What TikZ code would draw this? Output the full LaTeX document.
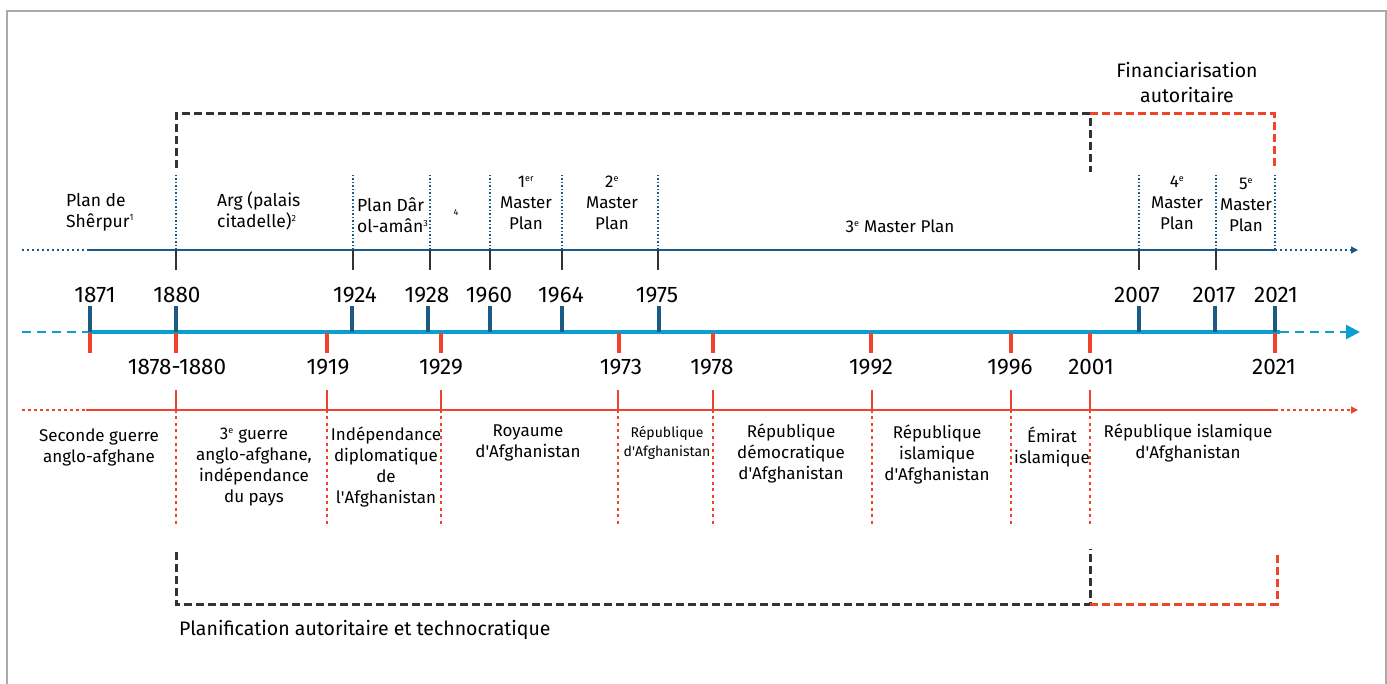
\documentclass[tikz,border=0pt]{standalone}
\usepackage{fontspec}
\setmainfont{Fira Sans}
\usetikzlibrary{arrows.meta}
\definecolor{dblue}{HTML}{1B5A84}
\definecolor{lblue}{HTML}{0A9ED2}
\definecolor{tred}{HTML}{F0442A}
\definecolor{dgray}{HTML}{333333}
\definecolor{framec}{HTML}{AAAAAA}
\newcommand{\ap}{\textquotesingle}
\newcommand{\supx}[1]{\textsuperscript{\fontsize{9}{9}\selectfont #1}}
\tikzset{
  yr/.style={inner sep=0pt, font=\fontsize{22.5}{26}\selectfont},
  lbl/.style={inner sep=0pt, align=center, font=\fontsize{17}{21}\selectfont},
  lbll/.style={inner sep=0pt, align=left, anchor=west, font=\fontsize{17.5}{21}\selectfont},
  smalllbl/.style={inner sep=0pt, align=center, font=\fontsize{14}{19}\selectfont},
  bluetick/.style={dblue, line width=4pt},
  redtick/.style={tred, line width=3.5pt},
  graytick/.style={dgray, line width=2pt},
  redsmalltick/.style={tred, line width=2.5pt},
  bluedot/.style={dblue, line width=1.2pt, dash pattern=on 1.5pt off 2pt},
  reddot/.style={tred, line width=1.2pt, dash pattern=on 3pt off 3.5pt},
  bracketk/.style={dgray, line width=3pt, dash pattern=on 8pt off 4pt},
  bracketr/.style={tred, line width=3pt, dash pattern=on 8pt off 4pt},
}
\begin{document}
\begin{tikzpicture}[x=1pt,y=-1pt]
\useasboundingbox (0,0) rectangle (1387,684);
\draw[framec, line width=1.2pt] (7,690) -- (7,11) -- (1386,11) -- (1386,690);

% ---------- top bracket ----------
\coordinate (tb1) at (176,168);
\coordinate (tb2) at (176,114);
\coordinate (tb3) at (1090,114);
\coordinate (tb4) at (1090,172);
\coordinate (tb5) at (1274,114);
\coordinate (tb6) at (1274,168);
\draw[bracketk] (tb1) -- (tb2) -- (tb3) -- (tb4);
\draw[bracketr] (tb3) -- (tb5) -- (tb6);
\node[lbl, font=\fontsize{19.5}{25}\selectfont] (fin) at (1187,83) {Financiarisation\\autoritaire};

% ---------- top plan line ----------
\coordinate (p0) at (22,250);
\coordinate (p1) at (88,250);
\coordinate (p2) at (1275,250);
\coordinate (p3) at (1358,250);
\draw[dblue, line width=1.3pt, dash pattern=on 2pt off 3pt] (p0) -- (p1);
\draw[dblue, line width=1.3pt] (p1) -- (p2);
\draw[dblue, line width=1.3pt, dash pattern=on 2pt off 3pt, -{Triangle[length=7pt,width=7pt]}] (p2) -- (p3);

\foreach \x in {176,353,430,490,562,658,1139,1216,1275}{
  \draw[bluedot] (\x,175) -- (\x,250);
}
\foreach \x in {176,353,430,490,562,658,1139,1216}{
  \draw[graytick] (\x,250) -- (\x,270);
}

\node[lbll] (sherpur) at (66,212) {Plan de\\Shêrpur\supx{1}};
\node[lbll] (arg) at (217,211) {Arg (palais\\citadelle)\supx{2}};
\node[lbll] (daram) at (357,215) {Plan Dâr\\ol-amân\supx{3}};
\node[inner sep=0pt, font=\fontsize{9}{10}\selectfont] (n4) at (456,212) {4};
\node[lbl] (mp1) at (526,203) {1\supx{er}\\Master\\Plan};
\node[lbl] (mp2) at (612,203) {2\supx{e}\\Master\\Plan};
\node[lbl] (mp3) at (900,226) {3\supx{e} Master Plan};
\node[lbl] (mp4) at (1177,203) {4\supx{e}\\Master\\Plan};
\node[lbl] (mp5) at (1246,205) {5\supx{e}\\Master\\Plan};

% ---------- main axis ----------
\coordinate (a0) at (22,332);
\coordinate (a1) at (88,332);
\coordinate (a2) at (1280,332);
\coordinate (a3) at (1360,332);
\draw[lblue, line width=2.5pt, dash pattern=on 9pt off 6pt] (a0) -- (a1);
\draw[lblue, line width=4pt] (a1) -- (a2);
\draw[lblue, line width=2.5pt, dash pattern=on 9pt off 6pt, -{Triangle[length=14pt,width=14pt]}] (a2) -- (a3);

\foreach \x in {90,176,327,441,619,713,871,1011,1090,1275}{
  \draw[redtick] (\x,333) -- (\x,353);
}
\foreach \x in {90,176,352,428,490,562,659,1139,1215,1275}{
  \draw[bluetick] (\x,306) -- (\x,332);
}

\node[yr] (y1871) at (95,295) {1871};
\node[yr] (y1880) at (177,295) {1880};
\node[yr] (y1924) at (355,295) {1924};
\node[yr] (y1928) at (427,295) {1928};
\node[yr] (y1960) at (489,295) {1960};
\node[yr] (y1964) at (561,295) {1964};
\node[yr] (y1975) at (657,295) {1975};
\node[yr] (y2007) at (1137,295) {2007};
\node[yr] (y2017) at (1214,295) {2017};
\node[yr] (y2021) at (1276,295) {2021};

\node[yr] (r1878) at (177,367) {1878-1880};
\node[yr] (r1919) at (328,367) {1919};
\node[yr] (r1929) at (441,367) {1929};
\node[yr] (r1973) at (621,367) {1973};
\node[yr] (r1978) at (712,367) {1978};
\node[yr] (r1992) at (871,367) {1992};
\node[yr] (r1996) at (1010,367) {1996};
\node[yr] (r2001) at (1091,367) {2001};
\node[yr] (r2021) at (1274,367) {2021};

% ---------- red line ----------
\coordinate (r0) at (22,410);
\coordinate (r1) at (86,410);
\coordinate (r2) at (1275,410);
\coordinate (r3) at (1358,410);
\draw[tred, line width=1.5pt, dash pattern=on 3pt off 3pt] (r0) -- (r1);
\draw[tred, line width=1.5pt] (r1) -- (r2);
\draw[tred, line width=1.5pt, dash pattern=on 3pt off 3pt, -{Triangle[length=7pt,width=7pt]}] (r2) -- (r3);

\foreach \x in {176,327,441,618,713,872,1011,1090}{
  \draw[redsmalltick] (\x,390) -- (\x,410);
  \draw[reddot] (\x,410) -- (\x,527);
}

\node[lbl] (e1) at (99,447) {Seconde guerre\\anglo-afghane};
\node[lbl] (e2) at (254,467) {3\supx{e} guerre\\anglo-afghane,\\indépendance\\du pays};
\node[lbl] (e3) at (386,467) {Indépendance\\diplomatique\\de\\l\ap Afghanistan};
\node[lbl] (e4) at (528,443) {Royaume\\d\ap Afghanistan};
\node[smalllbl] (e5) at (667,443) {République\\d\ap Afghanistan};
\node[lbl] (e6) at (791,454) {République\\démocratique\\d\ap Afghanistan};
\node[lbl] (e7) at (937,455) {République\\islamique\\d\ap Afghanistan};
\node[lbl] (e8) at (1052,447) {Émirat\\islamique};
\node[lbl] (e9) at (1188,443) {République islamique\\d\ap Afghanistan};

% ---------- bottom bracket ----------
\coordinate (bb1) at (176,552);
\coordinate (bb2) at (176,604);
\coordinate (bb3) at (1090,604);
\coordinate (bb4) at (1090,549);
\coordinate (bb5) at (1277,604);
\coordinate (bb6) at (1277,553);
\draw[bracketk] (bb1) -- (bb2) -- (bb3) -- (bb4);
\draw[bracketr] (bb3) -- (bb5) -- (bb6);
\node[lbll, font=\fontsize{19.5}{22}\selectfont] (plan) at (179,630) {Planification autoritaire et technocratique};
\end{tikzpicture}
\end{document}
